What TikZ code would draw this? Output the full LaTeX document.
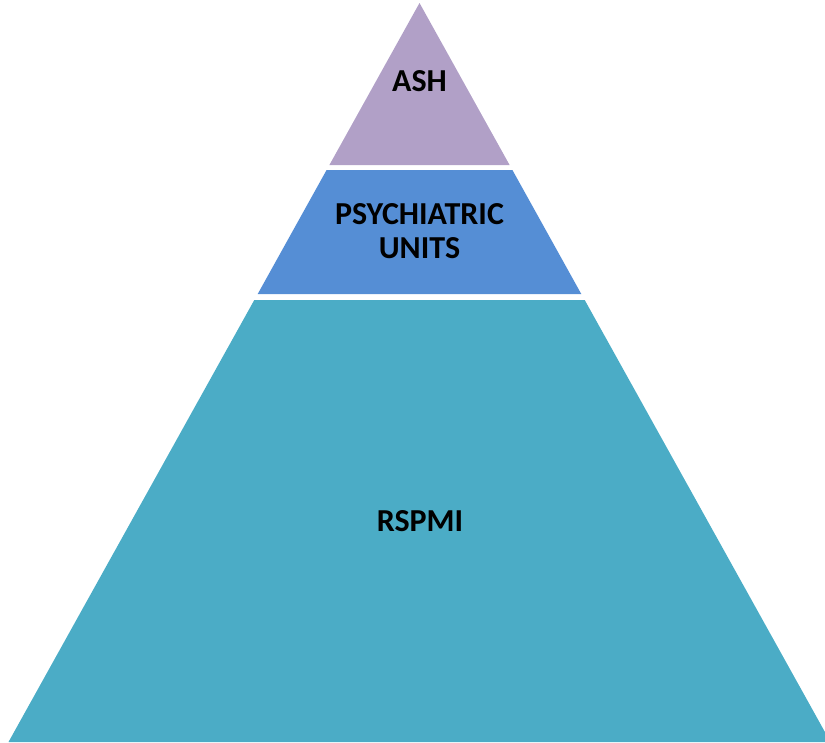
\documentclass[tikz,border=0pt]{standalone}
\usepackage{fontspec}
\setmainfont{Carlito}
\begin{document}
\begin{tikzpicture}[x=1pt,y=-1pt,
  lbl/.style={font=\bfseries\fontsize{32}{34}\selectfont, text=black, align=center, inner sep=0pt}]
\definecolor{cash}{HTML}{B1A0C7}
\definecolor{cpsy}{HTML}{558ED5}
\definecolor{crsp}{HTML}{4BACC6}
\useasboundingbox (0,0) rectangle (825,742);
\clip (0,0) rectangle (825,742);
% apex (419.5,3), half-width slope 0.5562
\fill[cash] (419.5,3) -- (509.6,165) -- (329.4,165) -- cycle;
\fill[cpsy] (326.6,170) -- (512.4,170) -- (581.3,294) -- (257.7,294) -- cycle;
\fill[crsp] (254.3,300) -- (584.7,300) -- (830.5,742) -- (8.5,742) -- cycle;
\node[lbl] (ash) at (419.5,81) {ASH};
\node[lbl] (psy) at (419.5,231) {PSYCHIATRIC\\UNITS};
\node[lbl] (rsp) at (420,521) {RSPMI};
\end{tikzpicture}
\end{document}
